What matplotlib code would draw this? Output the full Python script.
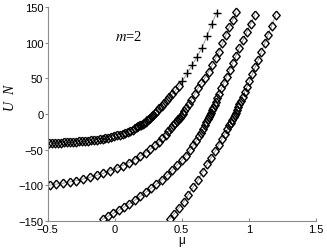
import matplotlib
matplotlib.use('Agg')
import matplotlib.pyplot as plt

plt.rcParams['mathtext.fontset'] = 'stix'
plt.rcParams['font.family'] = ['Liberation Sans', 'DejaVu Sans']

# branch 1 (lowest energy), diamonds then plus markers
mu1 = [-0.49, -0.467, -0.445, -0.422, -0.4, -0.378, -0.355, -0.333, -0.31, -0.288,
       -0.266, -0.244, -0.222, -0.2, -0.178, -0.156, -0.134, -0.112, -0.09, -0.068,
       -0.046, -0.024, -0.002, 0.02, 0.04, 0.06, 0.08, 0.1, 0.118, 0.135,
       0.15, 0.163, 0.175, 0.187, 0.198, 0.209, 0.22, 0.231, 0.242, 0.253,
       0.264, 0.276, 0.289, 0.303, 0.318, 0.334, 0.351, 0.369, 0.388, 0.408,
       0.43, 0.453, 0.477]
u1 = [-40.6, -40.4, -40.3, -40.1, -40.0, -39.8, -39.6, -39.3, -39.1, -38.8,
      -38.5, -38.2, -37.9, -37.5, -37.0, -36.5, -36.0, -35.4, -34.7, -34.0,
      -33.2, -32.3, -31.1, -30.0, -28.8, -27.6, -26.3, -25.0, -23.4, -21.8,
      -20.2, -18.7, -17.3, -16.0, -15.2, -13.8, -12.2, -10.6, -8.8, -7.0,
      -5.2, -3.2, -1.0, 1.6, 4.6, 8.0, 11.8, 15.8, 19.8, 23.8,
      28.2, 33.2, 38.6]
mu1_plus = [0.505, 0.54, 0.576, 0.613, 0.65, 0.688, 0.722, 0.76]
u1_plus = [46, 57, 68, 80, 93, 109, 126, 142]

# branch 2
mu2 = [-0.485, -0.435, -0.385, -0.335, -0.285, -0.235, -0.185, -0.135, -0.085, -0.035,
       0.015, 0.06, 0.105, 0.15, 0.19, 0.23, 0.265, 0.3, 0.33, 0.355,
       0.38, 0.4, 0.42, 0.435, 0.45, 0.462, 0.473, 0.484, 0.495, 0.507,
       0.52, 0.535, 0.552, 0.572, 0.595, 0.62, 0.647, 0.674, 0.7, 0.727,
       0.753, 0.778, 0.803, 0.829, 0.855, 0.88, 0.905]
u2 = [-99.8, -98.3, -97.0, -95.3, -93.4, -91.2, -88.8, -86.1, -83.1, -79.7,
      -75.9, -72.2, -68.5, -63.8, -59.2, -54.2, -49.5, -44, -39, -34,
      -29, -24.5, -19.5, -15.8, -12.5, -10, -7.5, -5, -2.5, 0.5,
      4, 8, 13.5, 20, 27.5, 36, 43, 51, 59, 69,
      78.5, 87.5, 99, 111, 122, 132, 143]

# branch 3
mu3 = [-0.09, -0.05, -0.01, 0.03, 0.07, 0.11, 0.15, 0.19, 0.23, 0.27,
       0.31, 0.35, 0.39, 0.43, 0.465, 0.5, 0.53, 0.56, 0.585, 0.607,
       0.627, 0.645, 0.66, 0.673, 0.684, 0.694, 0.703, 0.711, 0.719, 0.727,
       0.735, 0.744, 0.754, 0.766, 0.78, 0.796, 0.814, 0.834, 0.856, 0.88,
       0.905, 0.93, 0.957, 0.984, 1.013, 1.045]
u3 = [-147.5, -143.5, -139.3, -135, -130.5, -126, -121, -115.5, -110, -104.3,
      -98.5, -92.5, -86, -78.5, -71.5, -65, -58.5, -51, -44, -38,
      -31.5, -26, -21, -16, -11.5, -7.5, -4, -1, 2, 5.5,
      9, 13, 17, 22, 28.5, 36, 44, 52.5, 61.5, 72,
      82, 93, 103.5, 115, 126.5, 139]

# branch 4
mu4 = [0.41, 0.445, 0.48, 0.515, 0.55, 0.585, 0.62, 0.655, 0.69, 0.72,
       0.75, 0.775, 0.8, 0.822, 0.84, 0.855, 0.867, 0.877, 0.886, 0.894,
       0.902, 0.91, 0.919, 0.929, 0.94, 0.953, 0.968, 0.985, 1.004, 1.025,
       1.047, 1.07, 1.093, 1.118, 1.143, 1.17, 1.2]
u4 = [-147.5, -139.5, -131.3, -123, -113, -102.5, -93, -81.5, -70, -61,
      -51.5, -43.5, -34.5, -28, -21.5, -16, -12, -8, -4.5, -1.5,
      2, 5.5, 9.5, 14, 18.5, 24, 30.5, 37.5, 46, 55.5,
      65.5, 76, 87, 99, 111, 124, 139]

xticks = [-0.5, 0, 0.5, 1, 1.5]
xticklabels = ['\u22120.5', '0', '0.5', '1', '1.5']
yticks = [-150, -100, -50, 0, 50, 100, 150]
yticklabels = ['\u2212150', '\u2212100', '\u221250', '0', '50', '100', '150']

fig = plt.figure(figsize=(3.27, 2.51), dpi=100)
ax = fig.add_axes([47.5 / 327, 29 / 251, 268.5 / 327, 214 / 251])

diamond = [(0, 1), (0.85, 0), (0, -1), (-0.85, 0), (0, 1)]
line_kw = dict(color='0.55', lw=0.6, zorder=1)
mk_kw = dict(ls='none', marker=diamond, ms=6.3, mfc='none', mec='black', mew=1.0, zorder=2)

ax.plot(mu1 + mu1_plus, u1 + u1_plus, **line_kw)
ax.plot(mu1, u1, **mk_kw)
ax.plot(mu1_plus, u1_plus, ls='none', marker='+', ms=5.5, mec='black', mew=1.0, zorder=2)
for mu, u in [(mu2, u2), (mu3, u3), (mu4, u4)]:
    ax.plot(mu, u, **line_kw)
    ax.plot(mu, u, **mk_kw)

ax.set_xlim(-0.5, 1.5)
ax.set_ylim(-150, 150)
ax.set_xticks(xticks)
ax.set_xticklabels(xticklabels)
ax.set_yticks(yticks)
ax.set_yticklabels(yticklabels)

for s in ['top', 'right']:
    ax.spines[s].set_visible(False)
for s in ['left', 'bottom']:
    ax.spines[s].set_color('0.55')
    ax.spines[s].set_linewidth(0.8)
ax.tick_params(axis='x', direction='in', length=2, color='0.55', labelsize=8, pad=2.5)
ax.tick_params(axis='y', direction='out', length=2, color='0.55', labelsize=8, pad=1)

ax.text(0.0, 110, '$m$=2', fontsize=10.5, family='Liberation Serif', va='center', ha='left')
ax.set_ylabel('U  N', fontsize=10, family='Liberation Serif', style='italic')
ax.yaxis.set_label_coords(-0.115, 0.58)
ax.set_xlabel('\u03bc', fontsize=8.5, labelpad=0)

fig.savefig('out.png', dpi=100)
